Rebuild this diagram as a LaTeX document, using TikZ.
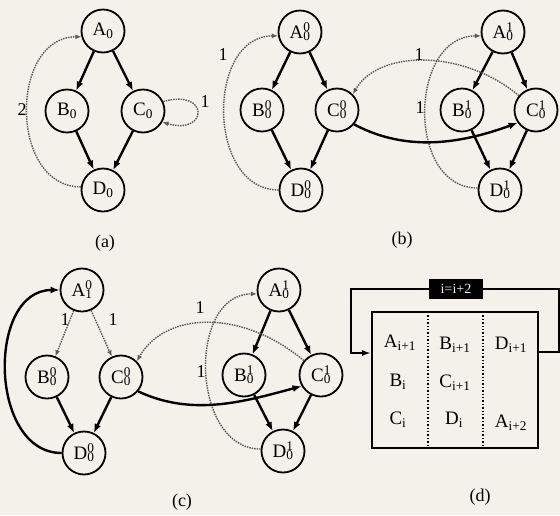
\documentclass[tikz,border=0pt]{standalone}
\usepackage{fontspec}
\setmainfont{Liberation Serif}
\usetikzlibrary{arrows.meta}
\definecolor{bgc}{RGB}{243,241,234}
\definecolor{dotc}{RGB}{90,90,90}
\newcommand\sbsp[3]{#1\rlap{\textsuperscript{#2}}\textsubscript{#3}}
\newcommand\sbonly[2]{#1\textsubscript{#2}}
\begin{document}
\begin{tikzpicture}[x=1pt,y=1pt,
  st/.style={circle,draw,line width=1.8pt,minimum size=43pt,inner sep=0pt,font=\fontsize{19}{21}\selectfont},
  solidar/.style={line width=2.4pt,-{Latex[length=9pt,width=7pt]}},
  dotar/.style={draw=dotc,line width=1.4pt,dash pattern=on 1.5pt off 1pt,-{Latex[open,length=6pt,width=5pt]}},
  lbl/.style={font=\fontsize{18}{20}\selectfont},
  boxtxt/.style={font=\fontsize{19}{21}\selectfont},
  loopline/.style={line width=2pt}
]
\fill[bgc] (0,0) rectangle (560,-515);
\useasboundingbox (0,0) rectangle (560,-515);

% ---------- (a)
\node[st] (aA) at (103,-31) {\sbonly{A}{0}};
\node[st] (aB) at (67,-111) {\sbonly{B}{0}};
\node[st] (aC) at (143,-111) {\sbonly{C}{0}};
\node[st] (aD) at (103,-190) {\sbonly{D}{0}};
\draw[solidar] (aA) -- (aB);
\draw[solidar] (aA) -- (aC);
\draw[solidar] (aB) -- (aD);
\draw[solidar] (aC) -- (aD);
\draw[dotar] (aD.172) to[out=180,in=180,distance=72pt] (aA.195);
\node[lbl] (a2) at (22,-110) {2};
\draw[dotar] (aC.25) to[out=16,in=-16,distance=48pt] (aC.-30);
\node[lbl] (a1) at (205,-102) {1};
\node[lbl] (acap) at (105,-243) {(a)};

% ---------- (b)
\node[st] (bA) at (300,-32) {\sbsp{A}{0}{0}};
\node[st] (bB) at (262,-110) {\sbsp{B}{0}{0}};
\node[st] (bC) at (337,-110) {\sbsp{C}{0}{0}};
\node[st] (bD) at (301,-190) {\sbsp{D}{0}{0}};
\node[st] (bA1) at (503,-32) {\sbsp{A}{1}{0}};
\node[st] (bB1) at (462,-110) {\sbsp{B}{1}{0}};
\node[st] (bC1) at (536,-110) {\sbsp{C}{1}{0}};
\node[st] (bD1) at (500,-190) {\sbsp{D}{1}{0}};
\draw[solidar] (bA) -- (bB);
\draw[solidar] (bA) -- (bC);
\draw[solidar] (bB) -- (bD);
\draw[solidar] (bC) -- (bD);
\draw[solidar] (bA1) -- (bB1);
\draw[solidar] (bA1) -- (bC1);
\draw[solidar] (bB1) -- (bD1);
\draw[solidar] (bC1) -- (bD1);
\draw[dotar] (bD.180) to[out=180,in=180,distance=72pt] (bA.190);
\node[lbl] (b1a) at (223,-55) {1};
\draw[dotar] (bC1.140) to[out=140,in=60,out distance=72pt,in distance=52pt] (bC.45);
\node[lbl] (b1b) at (419,-55) {1};
\draw[dotar] (bD1.175) to[out=180,in=180,distance=72pt] (bA1.190);
\node[lbl] (b1c) at (420,-108) {1};
\draw[solidar] (bC.-40) to[out=-28,in=-160,distance=60pt] (bC1.-145);
\node[lbl] (bcap) at (402,-240) {(b)};

% ---------- (c)
\node[st] (cA) at (82,-290) {\sbsp{A}{0}{1}};
\node[st] (cB) at (47,-377) {\sbsp{B}{0}{0}};
\node[st] (cC) at (121,-377) {\sbsp{C}{0}{0}};
\node[st] (cD) at (84,-453) {\sbsp{D}{0}{0}};
\node[st] (cA1) at (279,-290) {\sbsp{A}{1}{0}};
\node[st] (cB1) at (244,-375) {\sbsp{B}{1}{0}};
\node[st] (cC1) at (321,-375) {\sbsp{C}{1}{0}};
\node[st] (cD1) at (283,-451) {\sbsp{D}{1}{0}};
\draw[dotar] (cA) -- (cB);
\draw[dotar] (cA) -- (cC);
\node[lbl] (c1a) at (65,-320) {1};
\node[lbl] (c1b) at (113,-320) {1};
\draw[solidar] (cB) -- (cD);
\draw[solidar] (cC) -- (cD);
\draw[solidar] (cA1) -- (cB1);
\draw[solidar] (cA1) -- (cC1);
\draw[solidar] (cB1) -- (cD1);
\draw[solidar] (cC1) -- (cD1);
\draw[solidar] (cD.180) to[out=180,in=180,distance=73pt] (cA.180);
\draw[dotar] (cC1.140) to[out=140,in=60,out distance=80pt,in distance=58pt] (cC.45);
\node[lbl] (c1c) at (200,-308) {1};
\draw[dotar] (cD1.175) to[out=180,in=180,distance=70pt] (cA1.190);
\node[lbl] (c1d) at (201,-372) {1};
\draw[solidar] (cC.-40) to[out=-25,in=-165,distance=60pt] (cC1.-150);
\node[lbl] (ccap) at (182,-502) {(c)};

% ---------- (d)
\node[draw,line width=2pt,minimum width=166pt,minimum height=136pt,inner sep=0pt] (dbox) at (455,-380) {};
\draw[dotted,line width=1.4pt] (428,-312) -- (428,-448);
\draw[dotted,line width=1.4pt] (483,-312) -- (483,-448);
\node[boxtxt] (t1) at (400,-343) {\sbonly{A}{i+1}};
\node[boxtxt] (t2) at (398,-382) {\sbonly{B}{i}};
\node[boxtxt] (t3) at (398,-420) {\sbonly{C}{i}};
\node[boxtxt] (t4) at (455,-345) {\sbonly{B}{i+1}};
\node[boxtxt] (t5) at (455,-383) {\sbonly{C}{i+1}};
\node[boxtxt] (t6) at (454,-420) {\sbonly{D}{i}};
\node[boxtxt] (t7) at (511,-345) {\sbonly{D}{i+1}};
\node[boxtxt] (t8) at (511,-423) {\sbonly{A}{i+2}};
\node[fill=black,draw=black,line width=1.2pt,text=bgc,inner sep=1pt,minimum width=53pt,minimum height=18pt,font=\fontsize{14}{16}\selectfont] (inc) at (456,-289) {i=i+2};
\draw[loopline] ([yshift=28pt]dbox.east) -- ++(20pt,0) |- (inc.east);
\draw[loopline,-{Latex[length=9pt,width=6pt]}] (inc.west) -| ([xshift=-20pt,yshift=27pt]dbox.west) -- ([yshift=27pt]dbox.west);
\node[lbl] (dcap) at (480,-497) {(d)};
\end{tikzpicture}
\end{document}
